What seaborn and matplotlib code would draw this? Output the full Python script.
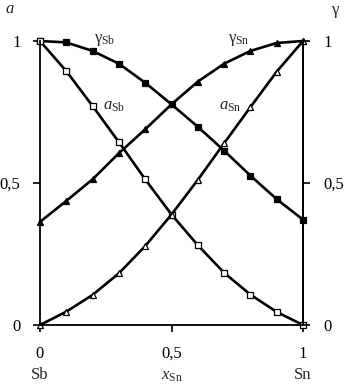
import numpy as np
import pandas as pd
import matplotlib
matplotlib.use("Agg")
import matplotlib.pyplot as plt
import seaborn as sns

x_sn = [0.0, 0.1, 0.2, 0.3, 0.4, 0.5, 0.6, 0.7, 0.8, 0.9, 1.0]
gamma_sb = [1.0, 0.995, 0.965, 0.92, 0.853, 0.777, 0.698, 0.614, 0.526, 0.443, 0.371]
a_sb = [1.0, 0.894, 0.771, 0.644, 0.513, 0.389, 0.281, 0.184, 0.107, 0.046, 0.0]
gamma_sn = [0.363, 0.437, 0.513, 0.605, 0.689, 0.777, 0.857, 0.92, 0.965, 0.993, 1.0]
a_sn = [0.0, 0.047, 0.106, 0.182, 0.278, 0.389, 0.511, 0.64, 0.767, 0.892, 1.0]
y_ticks = [0, 0.5, 1]
y_ticklabels = ["0", "0,5", "1"]

sns.set_style("white")
plt.rcParams['font.family'] = ['Liberation Serif', 'DejaVu Serif']
plt.rcParams['mathtext.fontset'] = 'custom'
plt.rcParams['mathtext.rm'] = 'Liberation Serif'
plt.rcParams['mathtext.it'] = 'Liberation Serif:italic'

fig = plt.figure(figsize=(3.45, 3.85), dpi=100)
ax = fig.add_axes([40/345, 60/385, 263/345, 284/385])

df = pd.DataFrame({"x": x_sn, "gsb": gamma_sb, "asb": a_sb, "gsn": gamma_sn, "asn": a_sn})
lw = 1.9
common = dict(color="black", linewidth=lw, ax=ax, legend=False, clip_on=False,
              markeredgecolor="black", markeredgewidth=0.9)
sns.lineplot(data=df, x="x", y="gsb", marker="s", markersize=5, markerfacecolor="black", **common)
sns.lineplot(data=df, x="x", y="asb", marker="s", markersize=5, markerfacecolor="white", **common)
sns.lineplot(data=df, x="x", y="gsn", marker="^", markersize=4.8, markerfacecolor="black", **common)
sns.lineplot(data=df, x="x", y="asn", marker="^", markersize=4.8, markerfacecolor="white", **common)

ax.set_xlim(0, 1)
ax.set_ylim(0, 1)
ax.set_xlabel("")
ax.set_ylabel("")
ax.spines["top"].set_visible(False)
for s in ["left", "right", "bottom"]:
    ax.spines[s].set_color("black")
    ax.spines[s].set_linewidth(1.3)

fs = 12
ax.set_xticks([0, 0.5, 1])
ax.set_xticklabels(["0", "0,5", "1"], fontsize=fs)
ax.set_yticks(y_ticks)
ax.set_yticklabels(y_ticklabels, fontsize=fs)
ax.tick_params(axis="x", direction="out", length=5, width=1.2, pad=10, colors="black", bottom=True)
ax.tick_params(axis="y", direction="out", length=5, width=1.2, pad=9, colors="black", left=True)

ax2 = ax.twinx()
ax2.set_ylim(0, 1)
ax2.set_yticks(y_ticks)
ax2.set_yticklabels(y_ticklabels, fontsize=fs)
ax2.tick_params(axis="y", direction="out", length=5, width=1.2, pad=10, colors="black", right=True)
for s in ["top", "left", "bottom"]:
    ax2.spines[s].set_visible(False)
ax2.spines["right"].set_linewidth(1.3)
ax2.spines["right"].set_color("black")

# curve labels
lfs = 12
ax.text(0.245, 1.005, r"$\mathrm{γ}_{\mathrm{Sb}}$", fontsize=lfs, ha="center", va="center")
ax.text(0.755, 1.005, r"$\mathrm{γ}_{\mathrm{Sn}}$", fontsize=lfs, ha="center", va="center")
ax.text(0.28, 0.77, r"$a_{\mathrm{Sb}}$", fontsize=lfs, ha="center", va="center")
ax.text(0.725, 0.77, r"$a_{\mathrm{Sn}}$", fontsize=lfs, ha="center", va="center")

# axis titles
fig.text(10/345, 1 - 9/385, r"$a$", fontsize=lfs, ha="center", va="center")
fig.text(336/345, 1 - 10/385, "γ", fontsize=lfs, ha="center", va="center")
fig.text(40/345, 1 - 375/385, "Sb", fontsize=lfs, ha="center", va="center")
fig.text(172/345, 1 - 376/385, r"$x_{\mathrm{Sn}}$", fontsize=lfs, ha="center", va="center")
fig.text(303/345, 1 - 375/385, "Sn", fontsize=lfs, ha="center", va="center")

fig.savefig("out.png", dpi=100)
